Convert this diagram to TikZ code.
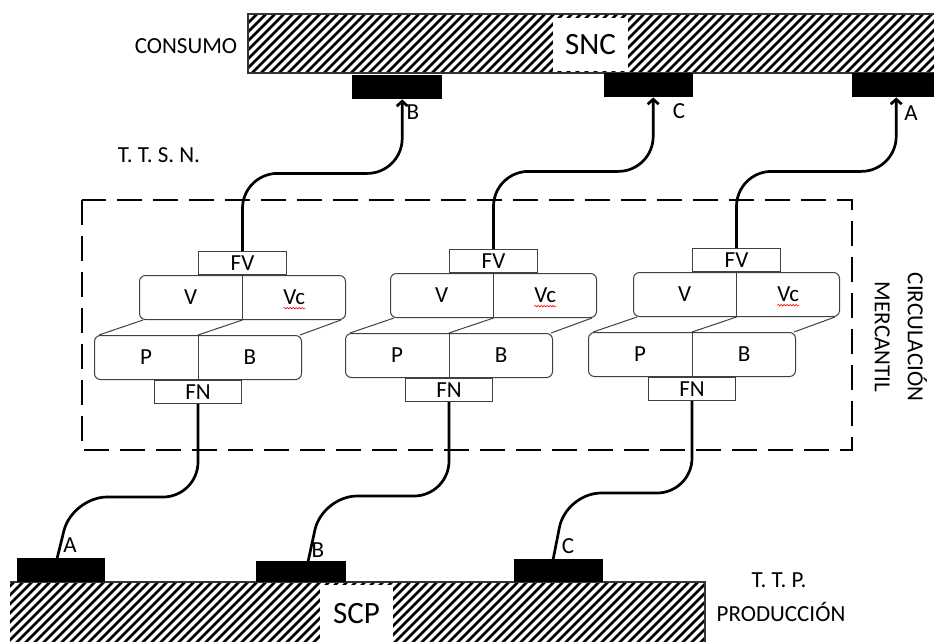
\documentclass[tikz,border=0pt]{standalone}
\usepackage{fontspec}
\setmainfont{Carlito}
\usetikzlibrary{arrows.meta,decorations.pathmorphing,calc}
\tikzset{
 lbl/.style={font=\fontsize{23}{27}\selectfont, inner sep=0pt},
 big/.style={font=\fontsize{31}{36}\selectfont},
 hatchline/.style={line width=2.6pt},
 bar/.style={draw=black!80, line width=1.2pt},
 pad/.style={fill=black, draw=none, anchor=north west, inner sep=0pt},
 conn/.style={line width=2.7pt, rounded corners=35pt},
 tip/.style={-{Straight Barb[length=5pt,width=11pt]}},
 modbox/.style={draw=black!75, line width=1pt, rounded corners=6pt, anchor=north west, minimum width=206pt, minimum height=44pt, inner sep=0pt},
 sqbox/.style={draw=black!75, line width=1pt, inner sep=0pt, minimum width=88pt, minimum height=23pt, font=\fontsize{23}{27}\selectfont},
 thin/.style={draw=black!75, line width=1pt},
 frame/.style={line width=2.5pt, dash pattern=on 25pt off 11pt},
 squig/.style={red, line width=0.6pt, decorate, decoration={snake, amplitude=0.8pt, segment length=3pt}},
}
\begin{document}
\begin{tikzpicture}[x=1pt,y=-1pt]
\useasboundingbox (0,0) rectangle (934,641);
% top hatched bar (consumo)
\begin{scope}
\clip (248,14) rectangle (945,73);
\foreach \i in {180,189,...,950} \draw[hatchline] (\i,73) -- ++(59,-59);
\end{scope}
\draw[bar] (945,14) -- (248,14) -- (248,73) -- (945,73);
\node[fill=white, minimum width=75pt, minimum height=53pt, inner sep=0pt, big] (snc) at (590.5,44.5) {SNC};
% bottom hatched bar (produccion)
\begin{scope}
\clip (10,582) rectangle (705,650);
\foreach \i in {-70,-61,...,720} \draw[hatchline] (\i,648) -- ++(66,-66);
\end{scope}
\draw[bar] (10,582) -- (705,582) -- (705,650);
\node[fill=white, minimum width=73pt, minimum height=58pt, inner sep=0pt, big] (scp) at (356.5,614) {SCP};
% pads
\node[pad, minimum width=90pt, minimum height=24pt] (tB) at (352,75) {};
\node[pad, minimum width=89pt, minimum height=24pt] (tC) at (604,73) {};
\node[pad, minimum width=90pt, minimum height=24pt] (tA) at (852,73) {};
\node[pad, minimum width=88pt, minimum height=24pt] (bA) at (17,558) {};
\node[pad, minimum width=90pt, minimum height=21pt] (bB) at (256,561) {};
\node[pad, minimum width=89pt, minimum height=23pt] (bC) at (514,559) {};
% dashed frame
\draw[frame] (82,200) rectangle (852,450);
% modules
\foreach \m/\X/\Y in {1/139/275,2/390/273,3/633/272}{
 \node[modbox] (vv\m) at (\X,\Y) {};
 \draw[thin] (vv\m.north) -- (vv\m.south);
 \node[modbox, minimum width=207pt] (pb\m) at (\X-45,\Y+60) {};
 \draw[thin] (pb\m.north) -- (pb\m.south);
 \node[lbl] (v\m) at ($(vv\m.west)!0.5!(vv\m.center)$) {V};
 \node[lbl] (vc\m) at ($(vv\m.center)!0.5!(vv\m.east)$) {Vc};
 \draw[squig] ([yshift=-3pt]vc\m.south west) -- ([yshift=-3pt]vc\m.south east);
 \node[lbl] (p\m) at ($(pb\m.west)!0.5!(pb\m.center)$) {P};
 \node[lbl] (b\m) at ($(pb\m.center)!0.5!(pb\m.east)$) {B};
 \node[sqbox, anchor=south] (fv\m) at (vv\m.north) {FV};
 \node[sqbox, anchor=north, minimum width=87pt] (fn\m) at (pb\m.south) {FN};
 \draw[thin] ([xshift=4pt]vv\m.south west) -- ([xshift=5pt]pb\m.north west);
 \draw[thin] (vv\m.south) -- (pb\m.north);
 \draw[thin] ([xshift=-5pt]vv\m.south east) -- ([xshift=-2pt]pb\m.north east);
}
% connectors to consumption
\draw[conn, tip] (fv1.north) |- ($(tB.south)+(5,74)$) -- ([xshift=5pt]tB.south);
\draw[conn, tip] (fv2.north) |- ($(tC.south)+(4.5,74)$) -- ([xshift=4.5pt]tC.south);
\draw[conn, tip] (fv3.north) |- ($(tA.south)+(-1,74)$) -- ([xshift=-1pt]tA.south);
% connectors from production
\draw[conn] (fn1.south) |- ($(bA.north)+(11,-61)$) -- ([xshift=-4pt]bA.north);
\draw[conn] (fn2.south) |- ($(bB.north)+(21,-65)$) -- ([xshift=7pt]bB.north);
\draw[conn] (fn3.south) |- ($(bC.north)+(7.5,-66)$) -- ([xshift=-5.5pt]bC.north);
% letters
\node[lbl] (ltB) at (413,112) {B};
\node[lbl] (ltC) at (679,111) {C};
\node[lbl] (ltA) at (911,113) {A};
\node[lbl] (lbA) at (70,545) {A};
\node[lbl] (lbB) at (318,550) {B};
\node[lbl] (lbC) at (568,546) {C};
% side texts
\node[lbl] (consumo) at (186,46) {CONSUMO};
\node[lbl] (ttsn) at (159,155) {T. T. S. N.};
\node[lbl] (ttp) at (779,580) {T. T. P.};
\node[lbl] (prod) at (781,612) {PRODUCCIÓN};
\node[font=\fontsize{23}{33}\selectfont, inner sep=0pt, align=center, rotate=-90] (circ) at (901,337) {CIRCULACIÓN\\MERCANTIL};
\end{tikzpicture}
\end{document}
